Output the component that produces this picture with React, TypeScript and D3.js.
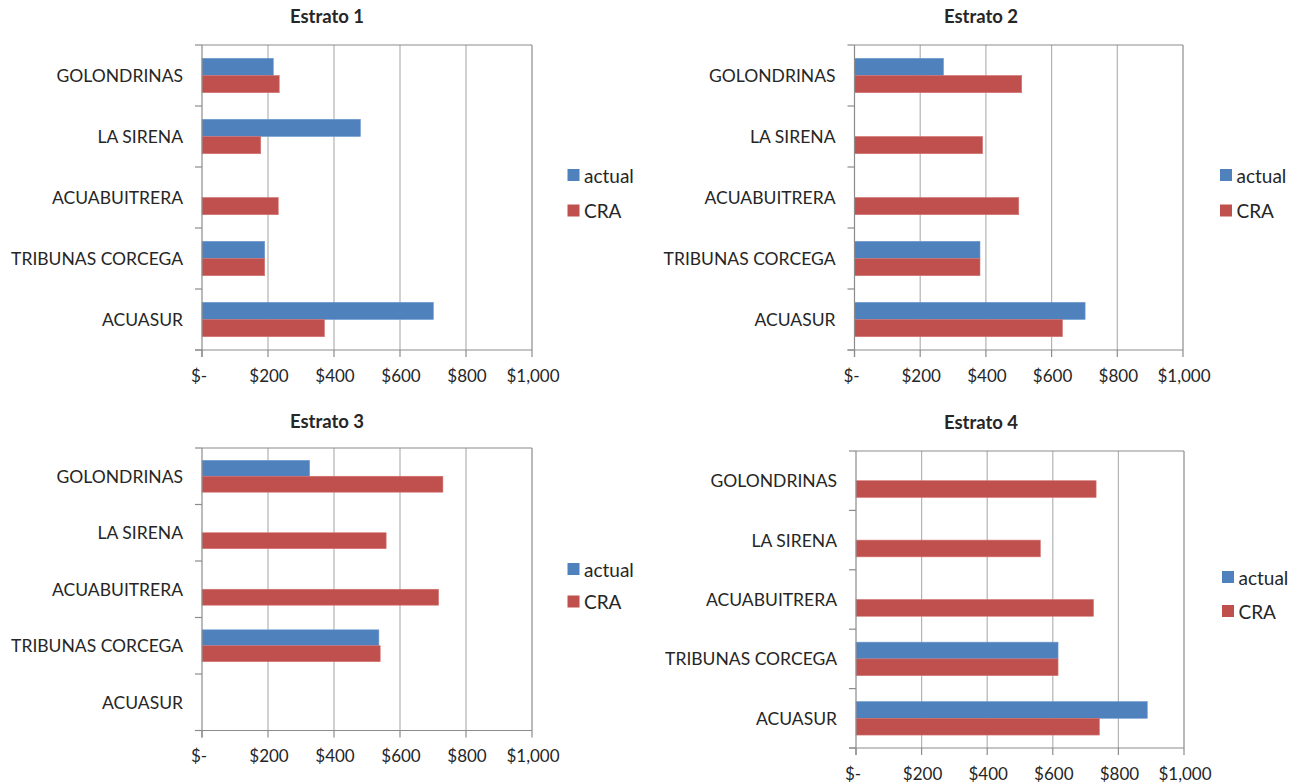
import React from "react";
import * as d3 from "d3";

// ---------- data ----------
const categories = ["GOLONDRINAS", "LA SIRENA", "ACUABUITRERA", "TRIBUNAS CORCEGA", "ACUASUR"];
const seriesNames = ["actual", "CRA"];
const tickValues = [0, 200, 400, 600, 800, 1000];

const estrato1Actual = [216, 480, null, 190, 701];
const estrato1CRA = [234, 178, 231, 190, 371];
const estrato2Actual = [271, null, null, 382, 702];
const estrato2CRA = [509, 390, 500, 382, 633];
const estrato3Actual = [326, null, null, 536, null];
const estrato3CRA = [730, 558, 717, 540, null];
const estrato4Actual = [null, null, null, 616, 888];
const estrato4CRA = [732, 562, 724, 616, 742];

const titles = ["Estrato 1", "Estrato 2", "Estrato 3", "Estrato 4"];

// ---------- layout / style ----------
const COLORS = ["#4F81BD", "#C0504D"];
const FONT = "Lato, 'Open Sans', sans-serif";
const TEXT = "#262626";
const GRID = "#b3b3b3";
const AXIS = "#8c8c8c";

const panels = [
  { title: titles[0], actual: estrato1Actual, cra: estrato1CRA, x0: 202, x1: 532, top: 45, bottom: 350, titleX: 327, titleY: 16, legX: 567.5, legY1: 175, legY2: 210.5 },
  { title: titles[1], actual: estrato2Actual, cra: estrato2CRA, x0: 854.5, x1: 1183, top: 45, bottom: 350, titleX: 981, titleY: 16, legX: 1220, legY1: 175, legY2: 210.5 },
  { title: titles[2], actual: estrato3Actual, cra: estrato3CRA, x0: 202, x1: 532, top: 448, bottom: 730.5, titleX: 327, titleY: 421, legX: 567.5, legY1: 569, legY2: 601.5 },
  { title: titles[3], actual: estrato4Actual, cra: estrato4CRA, x0: 856, x1: 1184, top: 451, bottom: 748, titleX: 981, titleY: 422, legX: 1222, legY1: 577, legY2: 611 },
];

const fmt = (v: number) => (v === 0 ? "$-" : d3.format("$,")(v));

function Panel({ p }: { p: any }) {
  const x = d3.scaleLinear().domain([0, 1000]).range([p.x0, p.x1]);
  const y = d3.scaleBand<string>().domain(categories).range([p.top, p.bottom]).paddingInner(0).paddingOuter(0);
  const bw = y.bandwidth();
  const barH = bw * 0.282;
  const series = [p.actual, p.cra];
  const boundaries = d3.range(categories.length + 1).map((i) => p.top + i * bw);

  return (
    <g>
      <text x={p.titleX} y={p.titleY} textAnchor="middle" dominantBaseline="central" fontFamily={FONT} fontWeight="bold" fontSize={18.5} fill={TEXT}>
        {p.title}
      </text>
      {/* gridlines */}
      {tickValues.slice(1, -1).map((t) => (
        <line key={"g" + t} x1={x(t)} x2={x(t)} y1={p.top} y2={p.bottom} stroke={GRID} strokeWidth={1.2} />
      ))}
      {/* plot border top/right */}
      <line x1={p.x0} x2={p.x1} y1={p.top} y2={p.top} stroke={AXIS} strokeWidth={1.2} />
      <line x1={p.x1} x2={p.x1} y1={p.top} y2={p.bottom} stroke={AXIS} strokeWidth={1.2} />
      {/* bars */}
      {categories.map((c, i) => {
        const center = (y(c) as number) + bw / 2;
        return series.map((s, k) => {
          const v = s[i];
          if (v == null) return null;
          const yy = k === 0 ? center - barH : center;
          return (
            <rect key={c + k} x={x(0)} y={yy} width={x(v) - x(0)} height={barH} fill={COLORS[k]} stroke={k === 0 ? "#6f9bd1" : "#d47472"} strokeWidth={0.6} />
          );
        });
      })}
      {/* y axis */}
      <line x1={p.x0} x2={p.x0} y1={p.top} y2={p.bottom + 7} stroke={AXIS} strokeWidth={1.2} />
      {boundaries.map((b, i) => (
        <line key={"yt" + i} x1={p.x0 - 7} x2={p.x0} y1={b} y2={b} stroke={AXIS} strokeWidth={1.2} />
      ))}
      {categories.map((c) => (
        <text key={"l" + c} x={p.x0 - 19} y={(y(c) as number) + bw / 2} textAnchor="end" dominantBaseline="central" fontFamily={FONT} fontSize={17.5} fill={TEXT}>
          {c}
        </text>
      ))}
      {/* x axis */}
      <line x1={p.x0 - 7} x2={p.x1} y1={p.bottom} y2={p.bottom} stroke={AXIS} strokeWidth={1.2} />
      {tickValues.map((t) => (
        <g key={"xt" + t}>
          <line x1={x(t)} x2={x(t)} y1={p.bottom} y2={p.bottom + 7} stroke={AXIS} strokeWidth={1.2} />
          <text x={x(t) + (t === 0 ? -3 : 1)} y={p.bottom + 25} textAnchor="middle" dominantBaseline="central" fontFamily={FONT} fontSize={17} fill={TEXT}>
            {fmt(t)}
          </text>
        </g>
      ))}
      {/* legend */}
      {seriesNames.map((n, k) => {
        const cy = k === 0 ? p.legY1 : p.legY2;
        return (
          <g key={"lg" + n}>
            <rect x={p.legX} y={cy - 6} width={12} height={12} fill={COLORS[k]} />
            <text x={p.legX + 16.5} y={cy} dominantBaseline="central" fontFamily={FONT} fontSize={19} fill={TEXT}>
              {n}
            </text>
          </g>
        );
      })}
    </g>
  );
}

export default function App() {
  return (
    <svg width={1297} height={783} style={{ position: "absolute", left: 0, top: 0, background: "#fff" }}>
      <rect width={1297} height={783} fill="#fff" />
      {panels.map((p, i) => (
        <Panel key={i} p={p} />
      ))}
    </svg>
  );
}
